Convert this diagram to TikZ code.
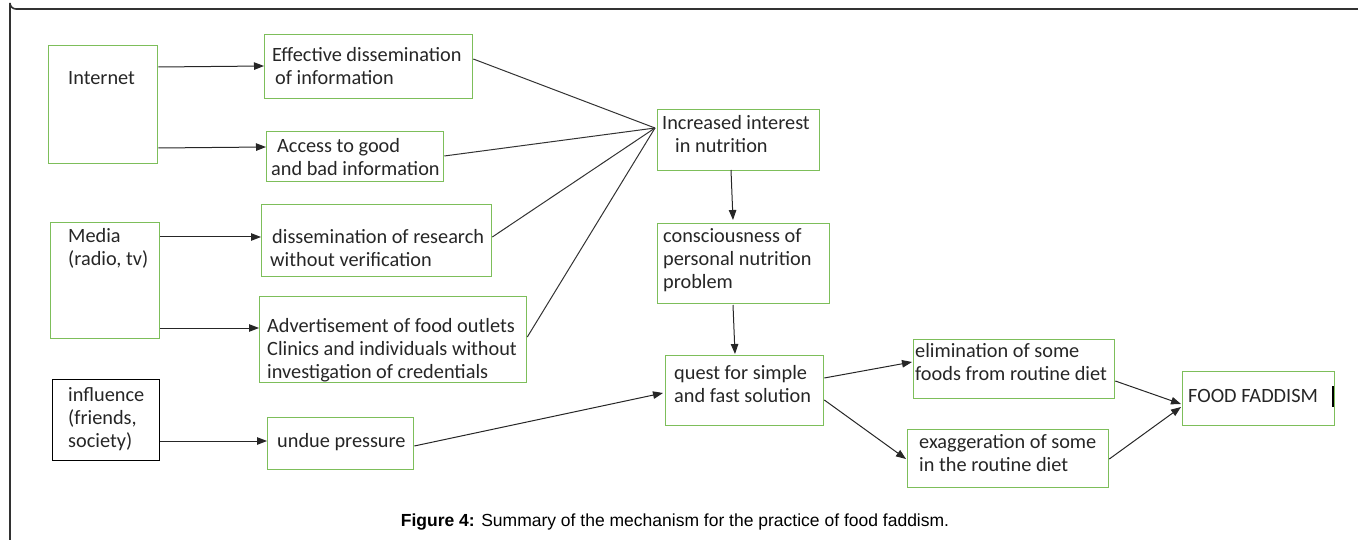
\documentclass[tikz,border=0pt]{standalone}
\usepackage{fontspec}
\setmainfont{Carlito}
\newfontfamily\capfont{Liberation Sans}
\usetikzlibrary{arrows.meta}
\definecolor{boxgreen}{RGB}{125,190,90}
\definecolor{framegray}{RGB}{50,50,50}
\begin{document}
\begin{tikzpicture}[x=1pt,y=-1pt,
  gbox/.style={draw=boxgreen,line width=1.3pt,inner sep=0pt,anchor=north west},
  kbox/.style={draw=black,line width=1.1pt,inner sep=0pt,anchor=north west},
  txt/.style={inner sep=0pt,anchor=west,align=left,font=\fontsize{20.3}{23}\selectfont,text=black!85},
  arr/.style={draw=black!85,line width=1pt,-{Triangle[length=10pt,width=7.5pt]}},
  ln/.style={draw=black!80,line width=1pt}]
\useasboundingbox (0,0) rectangle (1358,540);
% frame
\draw[framegray,line width=1.6pt] (1358,9) -- (16,9) arc[start angle=90,end angle=180,radius=6] -- (10,540);
% boxes
\node[gbox,minimum width=109,minimum height=118] (inet) at (48,45) {};
\node[txt] (inett) at (68,78) {Internet};
\node[gbox,minimum width=208,minimum height=64] (eff) at (264,34) {};
\node[txt] (efft) at (272,66.5) {Effective dissemination\\\hspace{3pt}of information};
\node[gbox,minimum width=177,minimum height=50] (acc) at (266,131) {};
\node[txt] (acct) at (271,157) {\hspace{6pt}Access to good\\and bad information};
\node[gbox,minimum width=109,minimum height=116] (med) at (50,222) {};
\node[txt] (medt) at (68,248.5) {Media\\(radio, tv)};
\node[gbox,minimum width=230,minimum height=72] (res) at (261,204) {};
\node[txt] (rest) at (270,248.5) {\hspace{2pt}dissemination of research\\without verification};
\node[gbox,minimum width=267,minimum height=86] (adv) at (259,296) {};
\node[txt] (advt) at (267,350.5) {Advertisement of food outlets\\Clinics and individuals without\\investigation of credentials};
\node[kbox,minimum width=107,minimum height=81] (inf) at (52,379) {};
\node[txt] (inft) at (68,419) {influence\\(friends,\\society)};
\node[gbox,minimum width=146,minimum height=52] (und) at (267,417) {};
\node[txt] (undt) at (277,442) {undue pressure};
\node[gbox,minimum width=162,minimum height=61] (int) at (657,109) {};
\node[txt] (intt) at (662,134.5) {Increased interest\\\hspace{13pt}in nutrition};
\node[gbox,minimum width=172,minimum height=80] (con) at (657,223) {};
\node[txt] (cont) at (663,260) {consciousness of\\personal nutrition\\problem};
\node[gbox,minimum width=158,minimum height=70] (qst) at (665,355) {};
\node[txt] (qstt) at (674,384.5) {quest for simple\\and fast solution};
\node[gbox,minimum width=201,minimum height=59] (eli) at (913,339) {};
\node[txt] (elit) at (915,362) {elimination of some\\foods from routine diet};
\node[gbox,minimum width=201,minimum height=58] (exa) at (907,429) {};
\node[txt] (exat) at (919,453.5) {exaggeration of some\\in the routine diet};
\node[gbox,minimum width=152,minimum height=54] (ff) at (1182,371) {};
\node[txt] (fft) at (1188,396) {FOOD FADDISM};
\draw[black,line width=1.2pt] (1333,386) -- (1333,407);
% connection points
\coordinate (hub) at (655,128);
% arrows
\draw[arr] (inet.east |- 0,67) -- (eff.west |- 0,66);
\draw[arr] (inet.east |- 0,148) -- (acc.west |- 0,147);
\draw[arr] (med.east |- 0,237) -- (res.west |- 0,237);
\draw[arr] (med.east |- 0,328) -- (adv.west |- 0,328);
\draw[arr] (inf.east |- 0,441) -- (und.west |- 0,441);
\draw[ln] (eff.east |- 0,59) -- (hub);
\draw[ln] (acc.east |- 0,156) -- (hub);
\draw[ln] (res.east |- 0,237) -- (hub);
\draw[ln] (adv.east |- 0,337) -- (hub);
\draw[arr] (731,170) -- (733,220);
\draw[arr] (733,305) -- (735,354);
\draw[arr] (und.east |- 0,446) -- (663,393);
\draw[arr] (qst.east |- 0,378) -- (912,362);
\draw[arr] (qst.east |- 0,400) -- (906,459);
\draw[arr] (eli.east |- 0,381) -- (1181,404);
\draw[arr] (exa.east |- 0,459) -- (1181,407);
% caption
\node[inner sep=0pt,font=\capfont\fontsize{17.5}{20}\selectfont] (cap) at (675,522) {\textbf{Figure 4:} Summary of the mechanism for the practice of food faddism.};
\end{tikzpicture}
\end{document}
